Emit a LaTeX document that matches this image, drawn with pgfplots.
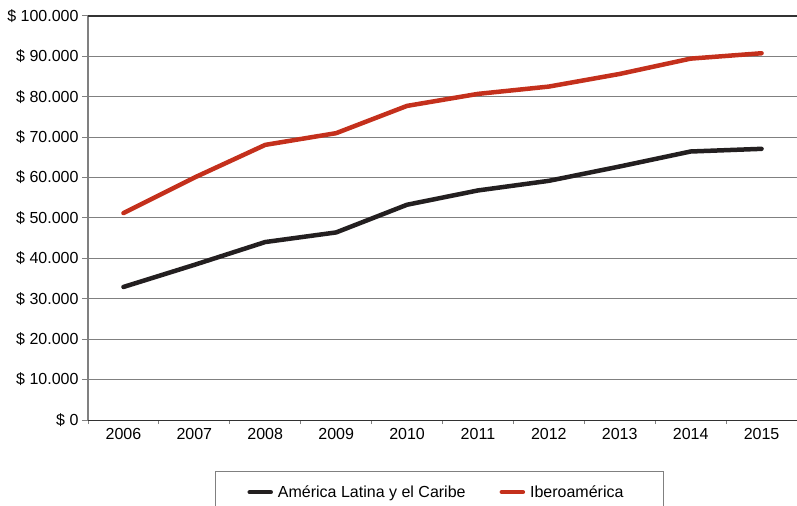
\documentclass[border=0pt]{standalone}
\usepackage{fontspec}
\setmainfont{Liberation Sans}
\usepackage{pgfplots}
\pgfplotsset{compat=1.18}
\definecolor{ibero}{RGB}{196,48,28}
\definecolor{alc}{RGB}{35,31,32}
\definecolor{gridgray}{RGB}{128,128,128}
\definecolor{framedark}{RGB}{50,50,50}

\pgfplotstableread{
x  alc    ibero
0  32930  51220
1  38400  60000
2  44050  68100
3  46430  71000
4  53280  77750
5  56820  80720
6  59200  82530
7  62750  85660
8  66460  89450
9  67120  90780
}\gdp

\begin{document}
\begin{tikzpicture}
\clip (0,0) rectangle (797bp,506bp);
\begin{axis}[
  at={(88bp,86bp)}, anchor=south west,
  scale only axis, width=709bp, height=404bp,
  xmin=-0.5, xmax=9.5, ymin=0, ymax=100000,
  scaled y ticks=false,
  axis x line*=bottom, axis y line*=left,
  x axis line style={-, draw=framedark, line width=1bp},
  y axis line style={-, draw=gridgray, line width=1.2bp},
  xtick={0,...,9},
  xticklabels={2006,2007,2008,2009,2010,2011,2012,2013,2014,2015},
  x tick style={draw=none},
  minor xtick={-0.5,0.5,...,9.5},
  minor x tick style={draw=gridgray, line width=1bp},
  minor tick length=4bp,
  major tick length=6bp,
  tick align=outside,
  ytick={0,10000,...,90000},
  yticklabels={\$ 0,\$ 10.000,\$ 20.000,\$ 30.000,\$ 40.000,\$ 50.000,\$ 60.000,\$ 70.000,\$ 80.000,\$ 90.000},
  y tick style={draw=gridgray, line width=1bp},
  extra y ticks={100000},
  extra y tick labels={\$ 100.000},
  extra y tick style={grid style={draw=framedark, line width=1.2bp}},
  ymajorgrids,
  grid style={draw=gridgray, line width=1bp},
  ticklabel style={font=\fontsize{16bp}{19bp}\selectfont, text=black},
  xticklabel style={yshift=1bp},
  legend style={at={(0.1791,-0.1262)}, anchor=north west,
    draw=gridgray, line width=1bp, inner xsep=32bp, inner ysep=12bp,
    font=\fontsize{16bp}{19bp}\selectfont,
    /tikz/every odd column/.append style={column sep=3bp},
    /tikz/every even column/.append style={column sep=32bp}},
  legend columns=2,
  legend image code/.code={\draw[#1, line width=4.5bp, line cap=round] (0bp,0bp) -- (21bp,0bp);},
]
\addplot[alc, line width=4.5bp, line join=round, line cap=round] table[x=x, y=alc] {\gdp};
\addlegendentry{América Latina y el Caribe}
\addplot[ibero, line width=4.5bp, line join=round, line cap=round] table[x=x, y=ibero] {\gdp};
\addlegendentry{Iberoamérica\hspace*{6bp}}
\end{axis}
\end{tikzpicture}
\end{document}
